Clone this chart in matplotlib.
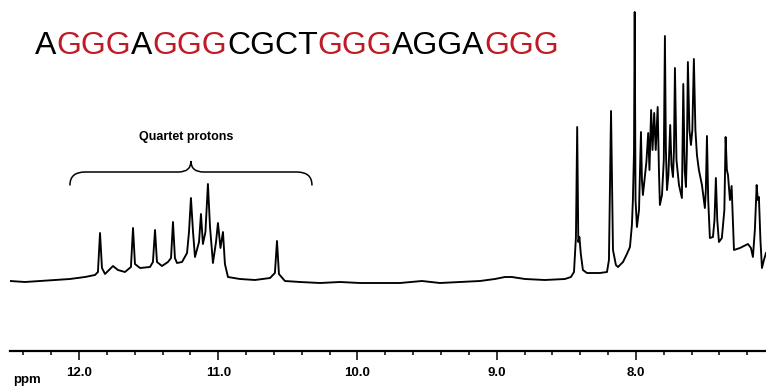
import matplotlib
matplotlib.use("Agg")
import matplotlib.pyplot as plt
from matplotlib.path import Path
from matplotlib.patches import PathPatch
from matplotlib.text import Annotation
from matplotlib.ticker import MultipleLocator, FormatStrFormatter

# ---- data: 1H NMR trace (ppm, relative intensity) ----
imino_ppm = [12.495, 12.388, 12.280, 12.172, 12.065, 11.957, 11.885, 11.864, 11.849, 11.835,
             11.813, 11.777, 11.756, 11.720, 11.670, 11.627, 11.612, 11.598, 11.562, 11.490,
             11.469, 11.454, 11.440, 11.404, 11.361, 11.339, 11.325, 11.311, 11.296, 11.260,
             11.224, 11.210, 11.196, 11.181, 11.167, 11.138, 11.124, 11.110, 11.092, 11.074,
             11.059, 11.038, 11.016, 11.002, 10.984, 10.966, 10.952, 10.930, 10.844, 10.736,
             10.628, 10.593, 10.578, 10.564, 10.521, 10.413, 10.269, 10.126, 9.982, 9.838,
             9.695, 9.537, 9.408, 9.264, 9.120, 9.013, 8.941, 8.891, 8.797, 8.654, 8.510]
imino_int = [1, 0, 1, 2, 3, 5, 7, 10, 49, 14,
             8, 13, 16, 12, 10, 15, 54, 18, 14, 15,
             20, 52, 20, 16, 20, 24, 60, 24, 19, 20,
             29, 50, 84, 50, 25, 40, 68, 38, 50, 98,
             55, 19, 40, 59, 34, 50, 18, 5, 3, 2,
             4, 9, 41, 8, 1, 0, -1, 0, -1, -1,
             -1, 1, -1, 0, 1, 3, 5, 5, 3, 2, 3]

arom_ppm = [8.467, 8.445, 8.431, 8.422, 8.414, 8.406, 8.396, 8.381, 8.352, 8.259,
            8.208, 8.194, 8.179, 8.165, 8.144, 8.129, 8.093, 8.065, 8.043, 8.029,
            8.022, 8.014, 8.009, 8.003, 7.993, 7.978, 7.964, 7.957, 7.950, 7.935,
            7.925, 7.912, 7.903, 7.891, 7.881, 7.869, 7.858, 7.844, 7.835, 7.828,
            7.813, 7.800, 7.792, 7.785, 7.777, 7.767, 7.754, 7.745, 7.734, 7.727,
            7.720, 7.709, 7.691, 7.670, 7.660, 7.650, 7.641, 7.634, 7.627, 7.616,
            7.605, 7.595, 7.584, 7.573, 7.562, 7.548, 7.526, 7.505, 7.498, 7.490,
            7.481, 7.469, 7.447, 7.436, 7.426, 7.416, 7.404, 7.383, 7.365, 7.356,
            7.347, 7.339, 7.325, 7.313, 7.303, 7.296, 7.275, 7.253, 7.225, 7.196,
            7.174, 7.160, 7.146, 7.133, 7.125, 7.117, 7.106, 7.095, 7.081, 7.066]
arom_int = [5, 10, 45, 155, 40, 45, 28, 12, 9, 9,
            10, 22, 171, 32, 17, 15, 20, 28, 35, 57,
            82, 130, 270, 82, 55, 72, 150, 102, 87, 107,
            120, 149, 112, 172, 132, 169, 132, 175, 112, 77,
            87, 122, 246, 132, 92, 107, 157, 117, 105, 132,
            214, 122, 97, 84, 198, 112, 95, 132, 220, 152,
            137, 152, 223, 152, 127, 112, 97, 74, 92, 146,
            82, 44, 45, 62, 104, 62, 40, 44, 72, 145,
            112, 107, 82, 96, 57, 32, 33, 34, 36, 38,
            34, 25, 52, 97, 82, 85, 42, 14, 22, 29]

sequence_parts = ["A", "GGG", "A", "GGG", "CGCT", "GGG", "AGGA", "GGG"]
sequence_red = [False, True, False, True, False, True, False, True]

major_step = 1.0
minor_step = 0.2
brace_left, brace_tip, brace_right = 12.065, 11.196, 10.327
brace_label = "Quartet protons"

# ---- figure ----
W, H = 766, 387
FONT = "Liberation Sans"
red = "#BE1B24"

fig = plt.figure(figsize=(W / 100, H / 100), dpi=100)
ax = fig.add_axes([10 / W, 36 / H, 756 / W, 351 / H])

ax.plot(imino_ppm + arom_ppm, imino_int + arom_int, color="black", lw=1.35,
        solid_joinstyle="round")

ax.set_xlim(12.4955, 7.066)
ax.set_ylim(-69, 282)

for s in ("top", "left", "right"):
    ax.spines[s].set_visible(False)
ax.spines["bottom"].set_linewidth(1.6)
ax.set_yticks([])
ax.xaxis.set_major_locator(MultipleLocator(major_step))
ax.xaxis.set_minor_locator(MultipleLocator(minor_step))
ax.xaxis.set_major_formatter(FormatStrFormatter("%.1f"))
ax.tick_params(axis="x", which="major", direction="out", length=6.5, width=1.1, pad=5)
ax.tick_params(axis="x", which="minor", direction="out", length=3.2, width=1.1)
for lab in ax.get_xticklabels():
    lab.set_fontfamily(FONT)
    lab.set_fontweight("bold")
    lab.set_fontsize(9.5)

fig.text(13 / W, 1 - 374 / H, "ppm", fontfamily=FONT, fontweight="bold",
         fontsize=9.5, ha="left", va="top")

# brace over the imino (quartet) region
by_end, by_flat, by_tip = 97, 110, 121
verts = [(brace_left, by_end), (brace_left, by_flat), (brace_left - 0.11, by_flat),
         (brace_tip + 0.09, by_flat),
         (brace_tip, by_flat), (brace_tip, by_tip),
         (brace_tip, by_flat), (brace_tip - 0.09, by_flat),
         (brace_right + 0.11, by_flat),
         (brace_right, by_flat), (brace_right, by_end)]
codes = [Path.MOVETO, Path.CURVE3, Path.CURVE3, Path.LINETO,
         Path.CURVE3, Path.CURVE3, Path.CURVE3, Path.CURVE3,
         Path.LINETO, Path.CURVE3, Path.CURVE3]
ax.add_patch(PathPatch(Path(verts, codes), fill=False, lw=1.1, edgecolor="black",
                       capstyle="round"))
ax.text(11.232, 145, brace_label, ha="center", va="center", fontfamily=FONT,
        fontweight="bold", fontsize=9)

# coloured sequence title
prev = fig.text(35 / W, 1 - 54 / H, sequence_parts[0], fontfamily=FONT,
                fontsize=23, color=red if sequence_red[0] else "black",
                ha="left", va="baseline")
for part, is_red in zip(sequence_parts[1:], sequence_red[1:]):
    prev = fig.add_artist(Annotation(
        part, xy=(1, 0), xycoords=prev, ha="left", va="bottom",
        fontfamily=FONT, fontsize=23, color=red if is_red else "black"))

fig.savefig("out.png", dpi=100)
